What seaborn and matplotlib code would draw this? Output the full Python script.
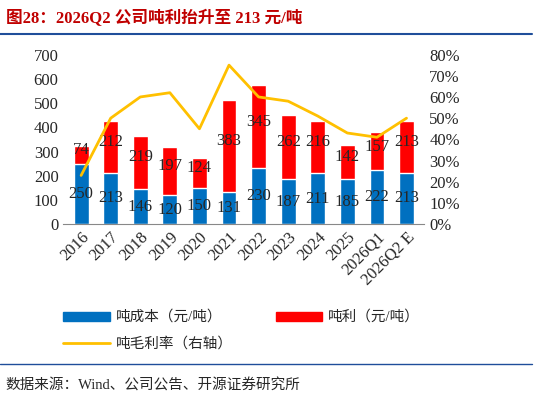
import numpy as np
import pandas as pd
import seaborn as sns
import matplotlib.pyplot as plt
from matplotlib.lines import Line2D

# data
years = ['2016', '2017', '2018', '2019', '2020', '2021', '2022', '2023', '2024', '2025', '2026Q1', '2026Q2 E']
cost = [250, 213, 146, 120, 150, 131, 230, 187, 211, 185, 222, 213]
profit = [74, 212, 219, 197, 124, 383, 345, 262, 216, 142, 157, 213]
margin = [23, 50, 60, 62, 45, 75, 60, 58, 51, 43, 41, 50]

sns.set_style('white')
plt.rcParams['font.family'] = ['Liberation Serif', 'Noto Sans CJK SC']

df = pd.DataFrame({'year': years, 'cost': cost, 'profit': profit, 'margin': margin})
df['total'] = df['cost'] + df['profit']

fig = plt.figure(figsize=(5.51, 4.04), dpi=100)
ax = fig.add_axes([0.115, 0.445, 0.655, 0.42])

sns.barplot(data=df, x='year', y='total', color='#ff0000', width=0.5, ax=ax, saturation=1)
sns.barplot(data=df, x='year', y='cost', color='#0070c0', width=0.5, ax=ax, saturation=1)

x = np.arange(len(years))
for i in range(len(years)):
    ax.text(x[i], cost[i] / 2, str(cost[i]), ha='center', va='center', fontsize=12)
    ax.text(x[i], cost[i] + profit[i] / 2 + 20, str(profit[i]), ha='center', va='center', fontsize=12)

ax.set_ylim(0, 700)
ax.set_yticks(range(0, 701, 100))
ax.set_xlim(-0.6, len(years) - 0.4)
ax.set_xlabel('')
ax.set_ylabel('')
ax.tick_params(axis='both', labelsize=12, length=0)
ax.set_xticks(x)
ax.set_xticklabels(years, rotation=45, ha='right', rotation_mode='anchor')
for s in ['top', 'right', 'left']:
    ax.spines[s].set_visible(False)
ax.spines['bottom'].set_color('#888888')

ax2 = ax.twinx()
sns.lineplot(x=x, y=df['margin'], color='#ffc000', linewidth=2, ax=ax2)
ax2.set_ylim(0, 80)
ax2.set_yticks(range(0, 81, 10))
ax2.set_yticklabels([f'{v}%' for v in range(0, 81, 10)])
ax2.set_ylabel('')
ax2.tick_params(axis='y', labelsize=12, length=0)
for s in ['top', 'right', 'left', 'bottom']:
    ax2.spines[s].set_visible(False)

# title
fig.text(0.01, 0.955, '图28：2026Q2 公司吨利抬升至 213 元/吨', color='#c00000',
         fontsize=12, fontweight='bold', va='center')
fig.add_artist(Line2D([0.0, 0.965], [0.915, 0.915], color='#1f4e9a', linewidth=1.5))

# legend
fig.patches.append(plt.Rectangle((0.115, 0.205), 0.085, 0.022, color='#0070c0', transform=fig.transFigure))
fig.text(0.21, 0.216, '吨成本（元/吨）', fontsize=10.5, va='center')
fig.patches.append(plt.Rectangle((0.5, 0.205), 0.085, 0.022, color='#ff0000', transform=fig.transFigure))
fig.text(0.595, 0.216, '吨利（元/吨）', fontsize=10.5, va='center')
fig.add_artist(Line2D([0.115, 0.2], [0.15, 0.15], color='#ffc000', linewidth=2))
fig.text(0.21, 0.15, '吨毛利率（右轴）', fontsize=10.5, va='center')

fig.add_artist(Line2D([0.0, 0.965], [0.1, 0.1], color='#1f4e9a', linewidth=1))
fig.text(0.01, 0.045, '数据来源：Wind、公司公告、开源证券研究所', fontsize=10.5, va='center')

fig.savefig('out.png', dpi=100)
